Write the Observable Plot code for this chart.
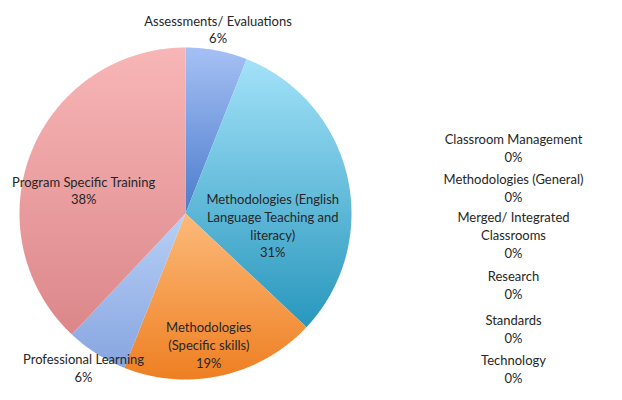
<!DOCTYPE html>
<html>
<head>
<meta charset="utf-8">
<script src="https://cdn.jsdelivr.net/npm/d3@7"></script>
<script src="https://cdn.jsdelivr.net/npm/@observablehq/plot@0.6"></script>
<style>
  html, body { margin: 0; padding: 0; background: #fff; }
  #chart svg { display: block; }
</style>
</head>
<body>
<div id="chart"></div>
<script>
// ---- data ----
const categories = [
  "Assessments/ Evaluations",
  "Methodologies (English Language Teaching and literacy)",
  "Methodologies (Specific skills)",
  "Professional Learning",
  "Program Specific Training",
  "Classroom Management",
  "Methodologies (General)",
  "Merged/ Integrated Classrooms",
  "Research",
  "Standards",
  "Technology"
];
const percents = [6, 31, 19, 6, 38, 0, 0, 0, 0, 0, 0];
// displayed label text (line breaks as in the picture)
const labelText = [
  "Assessments/ Evaluations\n6%",
  "Methodologies (English\nLanguage Teaching and\nliteracy)\n31%",
  "Methodologies\n(Specific skills)\n19%",
  "Professional Learning\n6%",
  "Program Specific Training\n38%",
  "Classroom Management\n0%",
  "Methodologies (General)\n0%",
  "Merged/ Integrated\nClassrooms\n0%",
  "Research\n0%",
  "Standards\n0%",
  "Technology\n0%"
];

// ---- styles / layout ----
const gradTop = ["#a6c0f4", "#a3e2f9", "#fcba7a", "#b8d0f6", "#f8b6b6"];
const gradBot = ["#4b7ccc", "#2897bd", "#ee7f22", "#87a5e0", "#dc878a"];
const W = 622, H = 400;
const cx = 185, cy = 213, R = 166;
// label placement for non-zero slices: [radius factor, angle shift in degrees]
const labelPlace = [[1.13, -0.8], [0.53, 20], [0.8, 2.5], [1.11, 1.2], [0.63, -8.5]];
// zero-value labels are stacked on the right
const zeroX = 513;
const zeroY = [147, 187, 234, 284, 328, 368];

// ---- build slice geometry from values ----
const pie = d3.pie().sort(null).value(d => d.value);
const items = categories.map((c, i) => ({name: c, value: percents[i], label: labelText[i], i}));
const arcs = pie(items);
const polyPts = [];
const labels = [];
let zi = 0;
arcs.forEach(a => {
  const i = a.data.i;
  if (a.data.value > 0) {
    const fill = `url(#grad${i})`;
    polyPts.push({x: cx, y: cy, k: i, fill});
    const n = Math.max(2, Math.ceil((a.endAngle - a.startAngle) / 0.01));
    for (let j = 0; j <= n; j++) {
      const t = a.startAngle + (a.endAngle - a.startAngle) * j / n;
      polyPts.push({x: cx + R * Math.sin(t), y: cy - R * Math.cos(t), k: i, fill});
    }
    const [rf, sh] = labelPlace[i];
    const mid = (a.startAngle + a.endAngle) / 2 + sh * Math.PI / 180;
    labels.push({x: cx + rf * R * Math.sin(mid), y: cy - rf * R * Math.cos(mid), text: a.data.label});
  } else {
    labels.push({x: zeroX, y: zeroY[zi++], text: a.data.label});
  }
});

// gradient defs mark
function defs() {
  const ns = "http://www.w3.org/2000/svg";
  const d = document.createElementNS(ns, "defs");
  gradTop.forEach((c, i) => {
    const g = document.createElementNS(ns, "linearGradient");
    g.setAttribute("id", "grad" + i);
    g.setAttribute("x1", "0"); g.setAttribute("y1", "0");
    g.setAttribute("x2", "0"); g.setAttribute("y2", "1");
    [[0, c], [1, gradBot[i]]].forEach(([o, col]) => {
      const s = document.createElementNS(ns, "stop");
      s.setAttribute("offset", o);
      s.setAttribute("stop-color", col);
      g.appendChild(s);
    });
    d.appendChild(g);
  });
  return d;
}

const chart = Plot.plot({
  width: W, height: H,
  margin: 0,
  x: {domain: [0, W], range: [0, W], axis: null},
  y: {domain: [0, H], range: [0, H], axis: null},
  color: {type: "identity"},
  style: {fontFamily: "Lato, 'Open Sans', sans-serif", background: "#fff"},
  marks: [
    defs,
    Plot.line(polyPts, {x: "x", y: "y", z: "k", fill: "fill", stroke: "none", curve: "linear-closed"}),
    Plot.text(labels, {x: "x", y: "y", text: "text", fontSize: 13, lineHeight: 1.38, fill: "#262626", textAnchor: "middle"})
  ]
});
document.getElementById("chart").appendChild(chart);
</script>
</body>
</html>
